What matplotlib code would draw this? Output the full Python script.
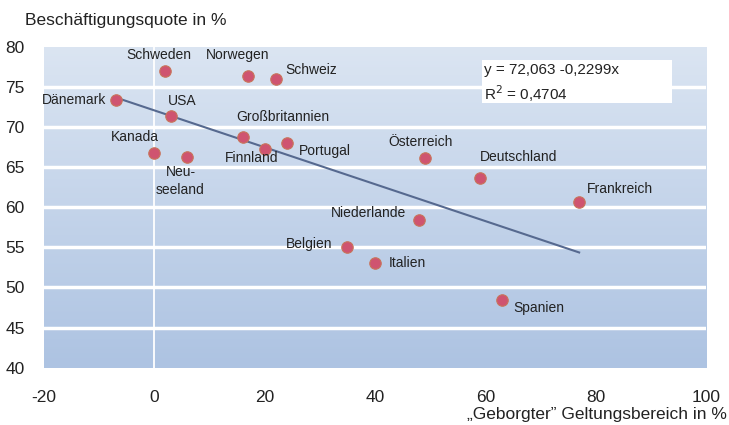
import numpy as np
import matplotlib
matplotlib.use("Agg")
import matplotlib.pyplot as plt
from matplotlib.colors import LinearSegmentedColormap
from matplotlib.patches import Rectangle

plt.rcParams['font.family'] = ['Liberation Sans', 'DejaVu Sans']
plt.rcParams['axes.unicode_minus'] = False

# Länder: x = "geborgter" Geltungsbereich, y = Beschäftigungsquote
countries = ["Dänemark", "Schweden", "Norwegen", "Schweiz", "USA", "Großbritannien",
             "Finnland", "Portugal", "Kanada", "Neu-\nseeland", "Österreich",
             "Deutschland", "Frankreich", "Niederlande", "Belgien", "Italien", "Spanien"]
x_vals = [-7, 2, 17, 22, 3, 16, 20, 24, 0, 6, 49, 59, 77, 48, 35, 40, 63]
y_vals = [73.3, 77.0, 76.3, 76.0, 71.4, 68.8, 67.3, 68.0, 66.7, 66.3, 66.1,
          63.6, 60.7, 58.4, 55.1, 53.1, 48.4]

# Label-Versatz in Pixeln + Ausrichtung
offsets = [(-9, 0, "right"), (-7, 16, "center"), (-11, 21, "center"), (10, 9, "left"),
           (11, 15, "center"), (-6, 20, "left"), (-13, -9, "center"), (12, -8, "left"),
           (-19, 16, "center"), (-7, -24, "center"), (-4, 16, "center"), (0, 21, "left"),
           (8, 13, "left"), (-13, 7, "right"), (-15, 3, "right"), (14, 0, "left"),
           (11, -8, "left")]

a, b = 72.063, -0.2299
x_fit = np.array([-7, 77])

fig = plt.figure(figsize=(7.29, 4.25), dpi=100)
ax = fig.add_axes([0.0604, 0.1348, 0.9081, 0.7553])

# Farbverlauf im Hintergrund
cmap = LinearSegmentedColormap.from_list("bg", ["#adc3e2", "#dbe5f2"])
grad = np.linspace(0, 1, 256).reshape(-1, 1)
ax.imshow(grad, cmap=cmap, origin="lower", aspect="auto",
          extent=[-20, 100, 40, 80], zorder=0)

for yy in range(45, 80, 5):
    ax.axhline(yy, color="white", lw=2.5, zorder=1)
ax.axvline(0, color="white", lw=1.3, zorder=1)

ax.plot(x_fit, a + b * x_fit, color="#56698f", lw=1.5, zorder=2)
ax.scatter(x_vals, y_vals, s=68, color="#cf5470", edgecolor="#c8745a",
           linewidth=0.8, zorder=3)

for name, xv, yv, (dx, dy, ha) in zip(countries, x_vals, y_vals, offsets):
    ax.annotate(name, (xv, yv), xytext=(dx, dy), textcoords="offset pixels",
                ha=ha, va="center", fontsize=10, color="#222222",
                linespacing=1.35, zorder=4)

# Gleichungsbox
ax.add_patch(Rectangle((59.3, 73.0), 34.5, 5.35, facecolor="white",
                       edgecolor="none", zorder=5))
ax.text(59.8, 77.05, "y = 72,063 -0,2299x", ha="left", va="center",
        fontsize=11, color="#222222", zorder=6)
ax.text(59.8, 74.2, "R$^2$ = 0,4704", ha="left", va="center",
        fontsize=11, color="#222222", zorder=6)

ax.set_xlim(-20, 100)
ax.set_ylim(40, 80)
ax.set_xticks(range(-20, 101, 20))
ax.set_yticks(range(40, 81, 5))
ax.tick_params(axis="both", length=0, labelsize=12.5, colors="#222222")
ax.tick_params(axis="x", pad=16)
ax.tick_params(axis="y", pad=14)
for s in ax.spines.values():
    s.set_visible(False)

fig.text(25 / 729, 1 - 20 / 425, "Beschäftigungsquote in %", fontsize=12.5,
         ha="left", va="center", color="#222222")
fig.text(727 / 729, 1 - 414 / 425, "„Geborgter\u201d Geltungsbereich in %", fontsize=12.5,
         ha="right", va="center", color="#222222")

fig.savefig("out.png", dpi=100)
